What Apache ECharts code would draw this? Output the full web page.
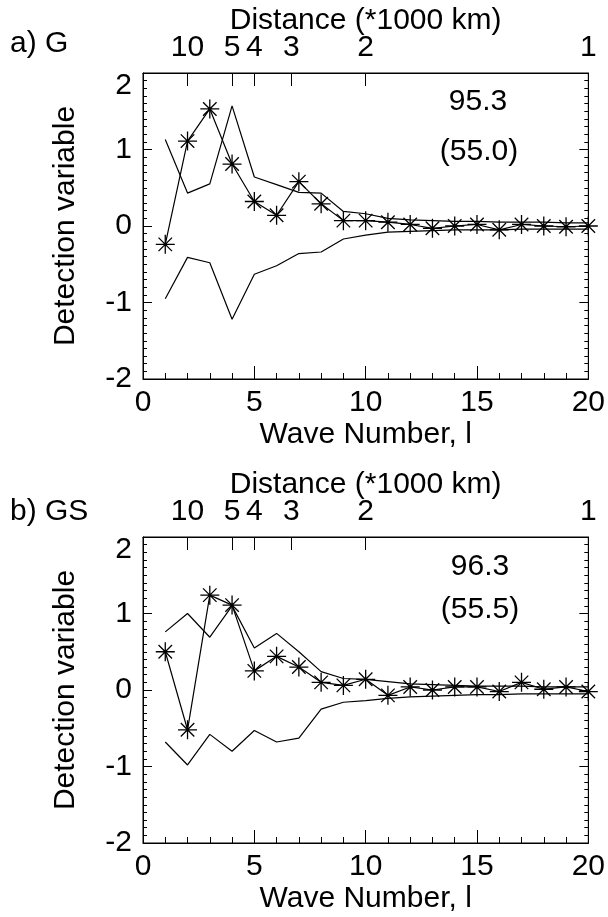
<!DOCTYPE html>
<html>
<head>
<meta charset="utf-8">
<script src="https://cdn.jsdelivr.net/npm/echarts@6/dist/echarts.min.js"></script>
<style>
html,body{margin:0;padding:0;background:#fff;}
#c{width:608px;height:917px;}
</style>
</head>
<body>
<div id="c"></div>
<script>
// ---- data ----
const waveNumbers = [1,2,3,4,5,6,7,8,9,10,11,12,13,14,15,16,17,18,19,20];
const gStar  = [-0.24, 1.11, 1.53, 0.81, 0.32, 0.14, 0.58, 0.29, 0.07, 0.07, 0.05, 0.02, -0.03, 0.00, 0.02, -0.05, 0.02, 0.00, -0.01, 0.00];
const gUpper = [1.13, 0.43, 0.55, 1.57, 0.64, 0.54, 0.44, 0.43, 0.19, 0.16, 0.10, 0.08, 0.07, 0.06, 0.06, 0.05, 0.05, 0.05, 0.04, 0.04];
const gLower = [-0.95, -0.41, -0.48, -1.22, -0.63, -0.52, -0.36, -0.34, -0.17, -0.12, -0.08, -0.07, -0.06, -0.05, -0.05, -0.05, -0.04, -0.04, -0.04, -0.04];
const gsStar  = [0.50, -0.52, 1.24, 1.11, 0.25, 0.44, 0.30, 0.10, 0.06, 0.14, -0.07, 0.04, 0.00, 0.04, 0.04, -0.02, 0.10, 0.01, 0.04, -0.02];
const gsUpper = [0.76, 1.00, 0.69, 1.10, 0.55, 0.74, 0.50, 0.24, 0.15, 0.14, 0.11, 0.08, 0.07, 0.06, 0.05, 0.05, 0.05, 0.04, 0.04, 0.04];
const gsLower = [-0.68, -0.98, -0.58, -0.80, -0.53, -0.68, -0.63, -0.25, -0.16, -0.14, -0.11, -0.09, -0.08, -0.07, -0.06, -0.06, -0.05, -0.05, -0.05, -0.05];
const distLabels = [10, 5, 4, 3, 2, 1];           // *1000 km
const xTickLabels = [0, 5, 10, 15, 20];
const yTickLabels = [-2, -1, 0, 1, 2];
const panelLabels = ['a) G', 'b) GS'];
const scoreLabels = [['95.3', '(55.0)'], ['96.3', '(55.5)']];

// ---- chart ----
const FONT = 'Liberation Sans, Arial, Helvetica, sans-serif';
const FS = 30;
const distPos = distLabels.map(d => 20 / d);   // wave number l = 20000 km / distance
const star = 'path://M0,-1L0,1M-1,0L1,0M-0.71,-0.71L0.71,0.71M-0.71,0.71L0.71,-0.71';

const grids = [
  {left: 143, top: 73, width: 446, height: 306},
  {left: 143, top: 537, width: 446, height: 306}
];
const xAxes = [], yAxes = [], series = [];
grids.forEach((g, i) => {
  g.show = true; g.borderColor = '#000'; g.borderWidth = 1; g.backgroundColor = 'transparent';
  xAxes.push({
    gridIndex: i, type: 'value', position: 'bottom', min: 0, max: 20, interval: 5,
    name: 'Wave Number, l', nameLocation: 'middle', nameGap: 41, nameMoveOverlap: false,
    nameTextStyle: {fontFamily: FONT, fontSize: FS, color: '#000'},
    axisLine: {show: true, onZero: false, lineStyle: {color: '#000', width: 1}},
    axisTick: {show: true, inside: true, length: 13, lineStyle: {color: '#000'}},
    minorTick: {show: true, splitNumber: 5, length: 6, lineStyle: {color: '#000'}},
    axisLabel: {fontFamily: FONT, fontSize: FS, color: '#000', margin: 9,
      formatter: v => xTickLabels.includes(v) ? String(v) : ''},
    splitLine: {show: false}, minorSplitLine: {show: false}
  });
  xAxes.push({
    gridIndex: i, type: 'value', position: 'top', min: 0, max: 20,
    name: 'Distance (*1000 km)', nameLocation: 'middle', nameGap: 37, nameMoveOverlap: false,
    nameTextStyle: {fontFamily: FONT, fontSize: FS, color: '#000'},
    axisLine: {show: true, onZero: false, lineStyle: {color: '#000', width: 1}},
    axisTick: {show: true, inside: true, length: 13, customValues: distPos, lineStyle: {color: '#000'}},
    axisLabel: {fontFamily: FONT, fontSize: FS, color: '#000', margin: 10, customValues: distPos,
      formatter: v => { const k = distPos.findIndex(p => Math.abs(p - v) < 1e-6); return k >= 0 ? String(distLabels[k]) : ''; }},
    splitLine: {show: false}
  });
  yAxes.push({
    gridIndex: i, type: 'value', position: 'left', min: -2, max: 2, interval: 1,
    name: 'Detection variable', nameLocation: 'middle', nameGap: 62, nameMoveOverlap: false,
    nameTextStyle: {fontFamily: FONT, fontSize: FS, color: '#000'},
    axisLine: {show: true, onZero: false, lineStyle: {color: '#000', width: 1}},
    axisTick: {show: true, inside: true, length: 9, lineStyle: {color: '#000'}},
    minorTick: {show: true, splitNumber: 10, length: 4, lineStyle: {color: '#000'}},
    axisLabel: {fontFamily: FONT, fontSize: FS, color: '#000', margin: 11,
      formatter: v => yTickLabels.includes(v) ? (v === 2 ? '{d|2}' : String(v)) : '',
      rich: {d: {fontFamily: FONT, fontSize: FS, color: '#000', padding: [26, 0, 0, 0]}}},
    splitLine: {show: false}, minorSplitLine: {show: false}
  });
  yAxes.push({
    gridIndex: i, type: 'value', position: 'right', min: -2, max: 2, interval: 1,
    axisLine: {show: true, onZero: false, lineStyle: {color: '#000', width: 1}},
    axisTick: {show: true, inside: true, length: 9, lineStyle: {color: '#000'}},
    minorTick: {show: true, splitNumber: 10, length: 4, lineStyle: {color: '#000'}},
    axisLabel: {show: false}, splitLine: {show: false}
  });
});

function pairs(arr) { return waveNumbers.map((l, k) => [l, arr[k]]); }
const panels = [[gUpper, gLower, gStar], [gsUpper, gsLower, gsStar]];
panels.forEach((p, i) => {
  const xi = i * 2, yi = i * 2;
  [p[0], p[1]].forEach(arr => series.push({
    type: 'line', xAxisIndex: xi, yAxisIndex: yi, data: pairs(arr),
    showSymbol: false, symbol: 'none', lineStyle: {color: '#000', width: 1.2}, silent: true
  }));
  series.push({
    type: 'line', xAxisIndex: xi, yAxisIndex: yi, data: pairs(p[2]),
    symbol: star, symbolSize: 19, showAllSymbol: true,
    lineStyle: {color: '#000', width: 1.2},
    itemStyle: {color: '#000', borderColor: '#000', borderWidth: 1.3}, silent: true
  });
});

const txt = (s, x, y, align) => ({type: 'text', x: x, y: y, silent: true,
  style: {text: s, font: FS + 'px ' + FONT, fill: '#000', align: align || 'center', verticalAlign: 'middle'}});
const graphic = [
  txt(panelLabels[0], 10, 44, 'left'),
  txt(panelLabels[1], 10, 512, 'left'),
  txt(scoreLabels[0][0], 478, 102), txt(scoreLabels[0][1], 479, 152),
  txt(scoreLabels[1][0], 480, 567), txt(scoreLabels[1][1], 480, 610)
];

const chart = echarts.init(document.getElementById('c'), null, {renderer: 'canvas'});
chart.setOption({
  animation: false, backgroundColor: '#fff',
  grid: grids, xAxis: xAxes, yAxis: yAxes, series: series, graphic: graphic
});
</script>
</body>
</html>
